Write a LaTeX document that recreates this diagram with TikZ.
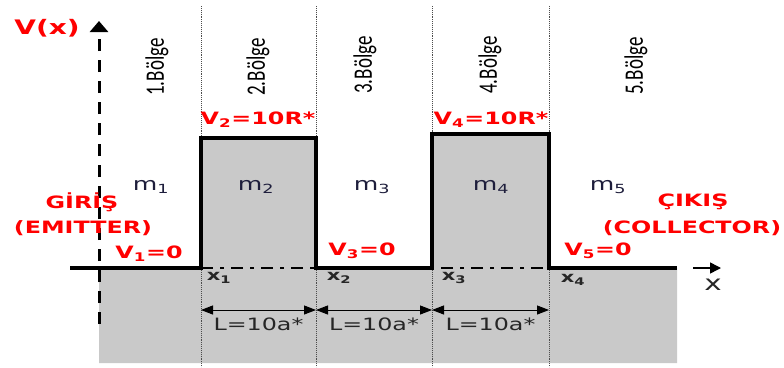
\documentclass[tikz,border=0pt]{standalone}
\usepackage{fontspec}
\usepackage{graphicx}
\usepackage{tikz}
\usetikzlibrary{arrows.meta}
\setmainfont{DejaVu Sans}
\newfontfamily\bolgefont{Carlito}
\definecolor{barrier}{RGB}{201,201,201}
\definecolor{mcolor}{RGB}{30,30,60}
\newcommand{\wide}[1]{\scalebox{1.4}[1]{#1}}
\newcommand{\tall}[1]{\scalebox{1}[1.4]{#1}}

\begin{document}
\begin{tikzpicture}[x=1pt, y=-1pt,
	redlbl/.style={text=red, inner sep=0pt, font=\bfseries\fontsize{17}{19}\selectfont},
	mlbl/.style={text=mcolor, inner sep=0pt, font=\fontsize{18}{20}\selectfont},
	xlbl/.style={text=black!85, inner sep=0pt, font=\bfseries\fontsize{15}{17}\selectfont},
	llbl/.style={text=black!85, inner sep=0pt, font=\fontsize{17}{19}\selectfont},
	bolge/.style={rotate=90, inner sep=0pt, font=\bolgefont\fontsize{19}{21}\selectfont},
	border/.style={black!70, densely dotted, line width=0.9pt},
	potential/.style={line width=3.5pt, line join=miter},
	dim/.style={line width=1pt, {Triangle[width=9pt,length=12pt]}-{Triangle[width=9pt,length=12pt]}}]
				\useasboundingbox (0,0) rectangle (784,367);
				
				\path (70,268) coordinate (start)
				(201,268) coordinate (b1) (201,138) coordinate (t1)
				(316,268) coordinate (b2) (316,138) coordinate (t2)
				(432,268) coordinate (b3) (432,134) coordinate (t3)
				(549,268) coordinate (b4) (549,134) coordinate (t4)
				(677,268) coordinate (end) (677,363) coordinate (endlow)
				(99,363) coordinate (axlow) (99,268) coordinate (axmid);
				
				\fill[barrier] (axmid) -- (b1) -- (t1) -- (t2) -- (b2) -- (b3) -- (t3) -- (t4) -- (b4) -- (end) -- (endlow) -- (axlow) -- cycle;
				
				\foreach \b in {1,...,4}
					\draw[border] (b\b |- 0,6) -- (b\b |- 0,367);
				
				\draw[line width=1.5pt, dash pattern=on 12pt off 7pt on 4pt off 7pt] (b1) -- (b4);
				\draw[potential] (start) -- (b1) -- (t1) -- (t2) -- (b2) -- (b3) -- (t3) -- (t4) -- (b4) -- (end);
				
				\path (99,324) coordinate (vbot) (99,21) coordinate (vtop)
				(693,268) coordinate (xa) (721,268) coordinate (xb);
				\draw[line width=3pt, dash pattern=on 12pt off 9pt, -{Triangle[width=18pt,length=11pt]}] (vbot) -- (vtop);
				\draw[line width=1.5pt, -{Triangle[width=11pt,length=11pt]}] (xa) -- (xb);
				
				\path (b1 |- 0,310) coordinate (d1) (b2 |- 0,310) coordinate (d2)
				(b3 |- 0,310) coordinate (d3) (b4 |- 0,310) coordinate (d4);
				\draw[dim] (d1) -- node[llbl, below=7pt] (l1) {\wide{L=10a*}} (d2);
				\draw[dim] (d2) -- node[llbl, below=7pt] (l2) {\wide{L=10a*}} (d3);
				\draw[dim] (d3) -- node[llbl, below=7pt] (l3) {\wide{L=10a*}} (d4);
				
				\path (47,28) node[redlbl, font=\bfseries\fontsize{20}{22}\selectfont] (vx) {\wide{V(x)}}
				(713,285) node[llbl, font=\fontsize{21}{23}\selectfont] (xlabel) {\wide{x}};
				
				\path (157,67) node[bolge] (r1) {\tall{1.Bölge}}
				(258,67) node[bolge] (r2) {\tall{2.Bölge}}
				(365,65) node[bolge] (r3) {\tall{3.Bölge}}
				(490,65) node[bolge] (r4) {\tall{4.Bölge}}
				(636,66) node[bolge] (r5) {\tall{5.Bölge}};
				
				\path (258,120) node[redlbl] (v2) {\wide{V\textsubscript{2}=10R*}}
				(491,120) node[redlbl] (v4) {\wide{V\textsubscript{4}=10R*}}
				(149,254) node[redlbl] (v1) {\wide{V\textsubscript{1}=0}}
				(362,251) node[redlbl] (v3) {\wide{V\textsubscript{3}=0}}
				(598,251) node[redlbl] (v5) {\wide{V\textsubscript{5}=0}};
				
				\path (151,187) node[mlbl] (m1) {\wide{m\textsubscript{1}}}
				(256,187) node[mlbl] (m2) {\wide{m\textsubscript{2}}}
				(372,187) node[mlbl] (m3) {\wide{m\textsubscript{3}}}
				(491,187) node[mlbl] (m4) {\wide{m\textsubscript{4}}}
				(608,187) node[mlbl] (m5) {\wide{m\textsubscript{5}}};
				
				\path (82,202) node[redlbl] (giris) {\wide{GİRİŞ}}
				(83,228) node[redlbl] (emitter) {\wide{(EMITTER)}}
				(693,202) node[redlbl] (cikis) {\wide{ÇIKIŞ}}
				(692,228) node[redlbl] (collector) {\wide{(COLLECTOR)}};
				
				\path (219,278) node[xlbl] (x1) {\wide{x\textsubscript{1}}}
				(339,278) node[xlbl] (x2) {\wide{x\textsubscript{2}}}
				(454,278) node[xlbl] (x3) {\wide{x\textsubscript{3}}}
				(573,280) node[xlbl] (x4) {\wide{x\textsubscript{4}}};
			\end{tikzpicture}
\end{document}
